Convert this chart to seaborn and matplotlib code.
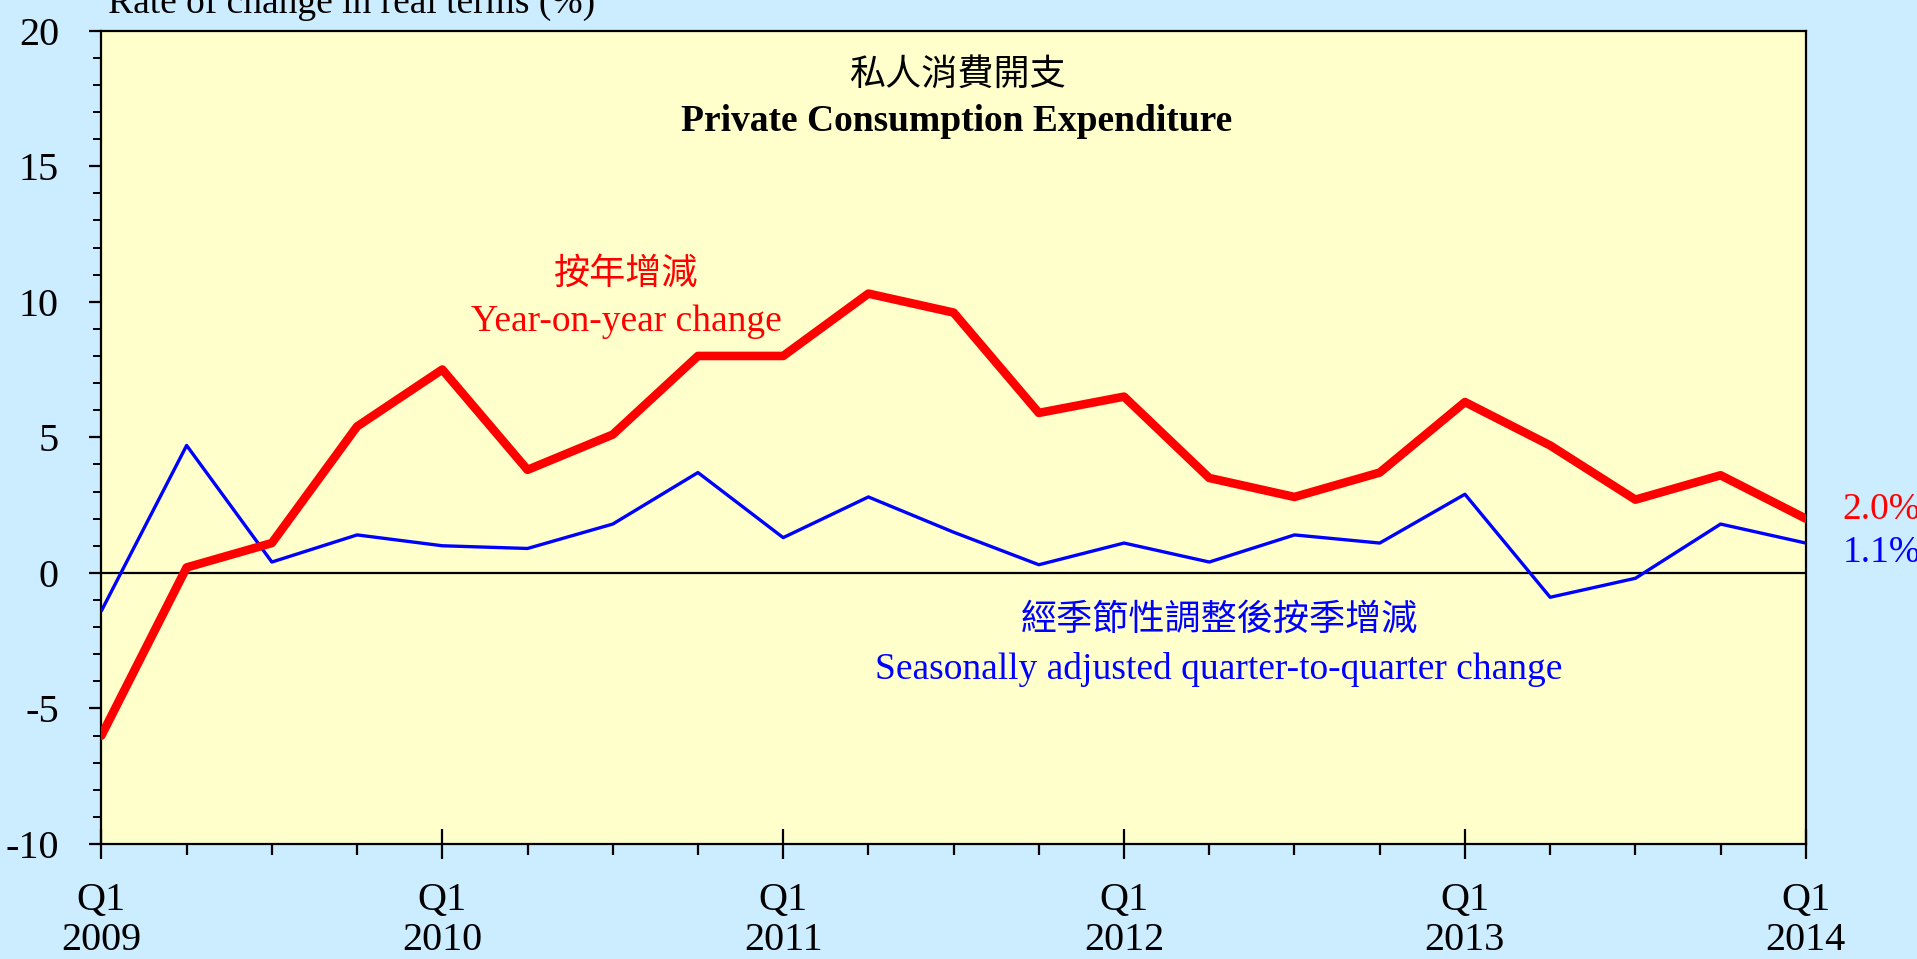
import numpy as np
import pandas as pd
import matplotlib
matplotlib.use("Agg")
import matplotlib.pyplot as plt
import seaborn as sns
from matplotlib.ticker import MultipleLocator, FixedLocator

# ================================
# Datos
# ================================
quarters = ["Q1 2009", "Q2 2009", "Q3 2009", "Q4 2009",
            "Q1 2010", "Q2 2010", "Q3 2010", "Q4 2010",
            "Q1 2011", "Q2 2011", "Q3 2011", "Q4 2011",
            "Q1 2012", "Q2 2012", "Q3 2012", "Q4 2012",
            "Q1 2013", "Q2 2013", "Q3 2013", "Q4 2013",
            "Q1 2014"]
yoy = [-6.0, 0.2, 1.1, 5.4, 7.5, 3.8, 5.1, 8.0, 8.0, 10.3, 9.6, 5.9,
       6.5, 3.5, 2.8, 3.7, 6.3, 4.7, 2.7, 3.6, 2.0]
qoq = [-1.4, 4.7, 0.4, 1.4, 1.0, 0.9, 1.8, 3.7, 1.3, 2.8, 1.5, 0.3,
       1.1, 0.4, 1.4, 1.1, 2.9, -0.9, -0.2, 1.8, 1.1]
year_labels = ["Q1\n2009", "Q1\n2010", "Q1\n2011", "Q1\n2012", "Q1\n2013", "Q1\n2014"]

df = pd.DataFrame({"q": np.arange(len(quarters)), "yoy": yoy, "qoq": qoq})

sns.set_style("ticks")
plt.rcParams["font.family"] = ["Liberation Serif", "Noto Sans CJK TC"]
plt.rcParams["axes.unicode_minus"] = False
plt.rcParams["text.color"] = "black"
plt.rcParams["xtick.color"] = "black"
plt.rcParams["ytick.color"] = "black"
plt.rcParams["xtick.labelcolor"] = "black"
plt.rcParams["ytick.labelcolor"] = "black"

BG = "#CCECFF"
PLOT_BG = "#FFFFCC"

fig = plt.figure(figsize=(19.17, 9.59), dpi=100, facecolor=BG)
ax = fig.add_axes([0.0529, 0.1199, 0.8891, 0.8482])
ax.set_facecolor(PLOT_BG)

ax.axhline(0, color="black", lw=1.6, zorder=1)
sns.lineplot(data=df, x="q", y="qoq", color="blue", lw=2.4, ax=ax, zorder=3)
sns.lineplot(data=df, x="q", y="yoy", color="red", lw=6.2, ax=ax, zorder=4)

ax.set_xlim(0, len(quarters) - 1)
ax.set_ylim(-10, 20)
ax.set_xlabel("")
ax.set_ylabel("")

# ejes
for s in ax.spines.values():
    s.set_visible(True)
    s.set_color("black")
    s.set_linewidth(1.6)

ax.yaxis.set_major_locator(MultipleLocator(5))
ax.yaxis.set_minor_locator(MultipleLocator(1))
ax.xaxis.set_major_locator(FixedLocator(range(0, len(quarters), 4)))
ax.xaxis.set_minor_locator(MultipleLocator(1))
ax.set_xticklabels(year_labels, linespacing=1.12)

ax.tick_params(axis="y", which="major", direction="out", length=8.6, width=1.6,
               labelsize=29, pad=22)
ax.tick_params(axis="y", which="minor", direction="out", length=5.8, width=1.4)
ax.tick_params(axis="x", which="major", direction="inout", length=22, width=1.6,
               labelsize=29, pad=16)
ax.tick_params(axis="x", which="minor", direction="out", length=8, width=1.6)

# textos
fig.text(0.0563, 0.9864, "Rate of change in real terms (%)", fontsize=27,
         ha="left", va="baseline")
fig.text(0.4992, 0.9208, "私人消費開支", fontsize=26, ha="center", va="center")
fig.text(0.4992, 0.8728, "Private Consumption Expenditure", fontsize=27,
         fontweight="bold", ha="center", va="center")
fig.text(0.3266, 0.7132, "按年增減", fontsize=26, color="red", ha="center", va="center")
fig.text(0.3266, 0.6642, "Year-on-year change", fontsize=27, color="red",
         ha="center", va="center")
fig.text(0.6359, 0.3525, "經季節性調整後按季增減", fontsize=26, color="blue",
         ha="center", va="center")
fig.text(0.6359, 0.3014, "Seasonally adjusted quarter-to-quarter change", fontsize=27,
         color="blue", ha="center", va="center")
fig.text(0.9612, 0.4682, f"{yoy[-1]:.1f}%", fontsize=27, color="red", ha="left", va="center")
fig.text(0.9612, 0.4234, f"{qoq[-1]:.1f}%", fontsize=27, color="blue", ha="left", va="center")

fig.savefig("out.png", dpi=100, facecolor=BG)
